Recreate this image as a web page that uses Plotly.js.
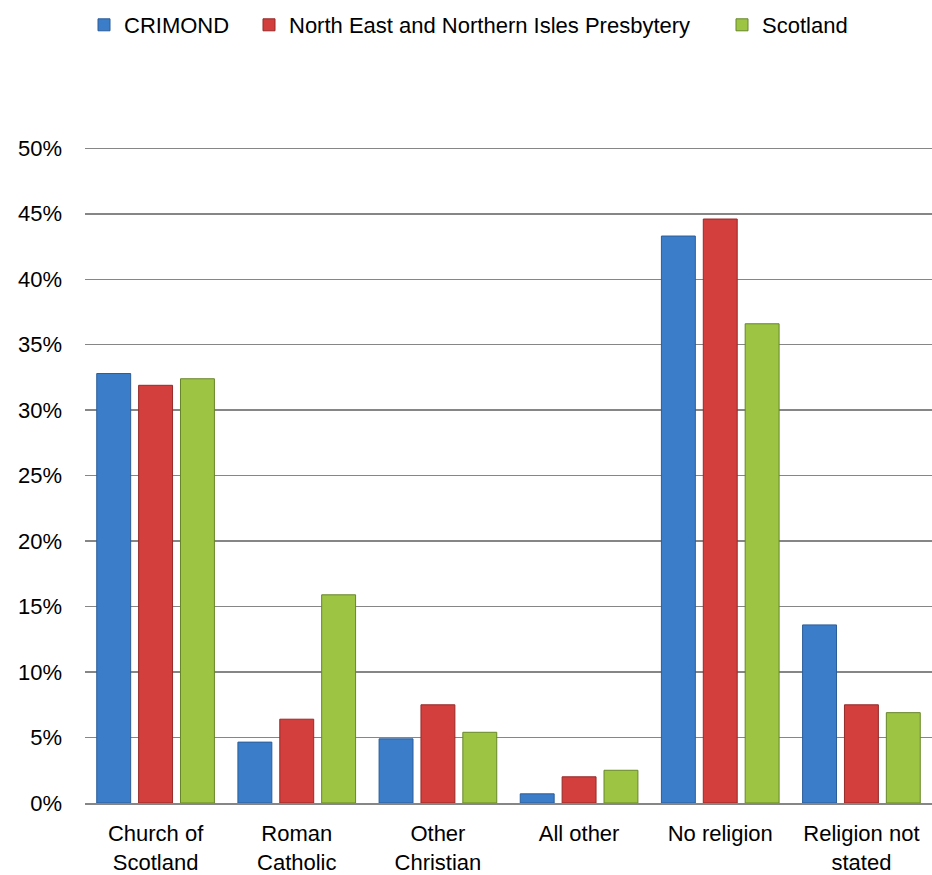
<!DOCTYPE html>
<html>
<head>
<meta charset="utf-8">
<script src="https://cdn.plot.ly/plotly-3.0.1.min.js"></script>
<style>
html,body{margin:0;padding:0;background:#fff;}
#chart{width:932px;height:875px;}
</style>
</head>
<body>
<div id="chart"></div>
<script>
var categories = ["Church of<br>Scotland", "Roman<br>Catholic", "Other<br>Christian", "All other", "No religion", "Religion not<br>stated"];
var seriesNames = ["CRIMOND", "North East and Northern Isles Presbytery", "Scotland"];
var crimond = [32.8, 4.65, 4.9, 0.7, 43.3, 13.6];
var northEast = [31.9, 6.4, 7.5, 2.0, 44.6, 7.5];
var scotland = [32.4, 15.9, 5.4, 2.5, 36.6, 6.9];
var yTickVals = [0, 5, 10, 15, 20, 25, 30, 35, 40, 45, 50];
var yTickText = ["0%", "5%", "10%", "15%", "20%", "25%", "30%", "35%", "40%", "45%", "50%"];

var fillColors = ["#3C7DC9", "#D23F3D", "#9DC443"];
var lineColors = ["#2B5D99", "#962A28", "#67862A"];
var seriesValues = [crimond, northEast, scotland];
var legendIds = ["legend", "legend2", "legend3"];
var legendX = [84, 249, 722];

var font = "'Liberation Sans', Arial, sans-serif";

var traces = seriesValues.map(function (vals, i) {
  return {
    type: "bar",
    name: seriesNames[i],
    legend: legendIds[i],
    x: categories,
    y: vals,
    marker: { color: fillColors[i], line: { color: lineColors[i], width: 1 } },
    hoverinfo: "skip"
  };
});

function legendBox(px) {
  return {
    orientation: "h",
    xref: "container",
    yref: "container",
    x: px / 932,
    xanchor: "left",
    y: 1 - 4 / 875,
    yanchor: "top",
    font: { family: font, size: 22, color: "#000000" },
    bgcolor: "rgba(0,0,0,0)",
    borderwidth: 0
  };
}

var layout = {
  width: 932,
  height: 875,
  paper_bgcolor: "#ffffff",
  plot_bgcolor: "#ffffff",
  font: { family: font, size: 22, color: "#000000" },
  margin: { l: 85, r: 0, t: 147, b: 72, pad: 0 },
  barmode: "group",
  bargap: 0.11,
  bargroupgap: 0.19,
  showlegend: true,
  legend: legendBox(legendX[0]),
  legend2: legendBox(legendX[1]),
  legend3: legendBox(legendX[2]),
  xaxis: {
    type: "category",
    automargin: false,
    showgrid: false,
    showline: true,
    linecolor: "#868686",
    linewidth: 2,
    ticks: "",
    ticklabelstandoff: 10,
    tickfont: { family: font, size: 22, color: "#000000" },
    fixedrange: true
  },
  yaxis: {
    range: [0, 50.1],
    automargin: false,
    tickvals: yTickVals,
    ticktext: yTickText,
    showgrid: true,
    gridcolor: "#868686",
    gridwidth: 1.5,
    zeroline: false,
    showline: false,
    ticks: "",
    ticklabelstandoff: 22,
    tickfont: { family: font, size: 22, color: "#000000" },
    fixedrange: true
  }
};

Plotly.newPlot("chart", traces, layout, { displayModeBar: false, staticPlot: true });
</script>
</body>
</html>
